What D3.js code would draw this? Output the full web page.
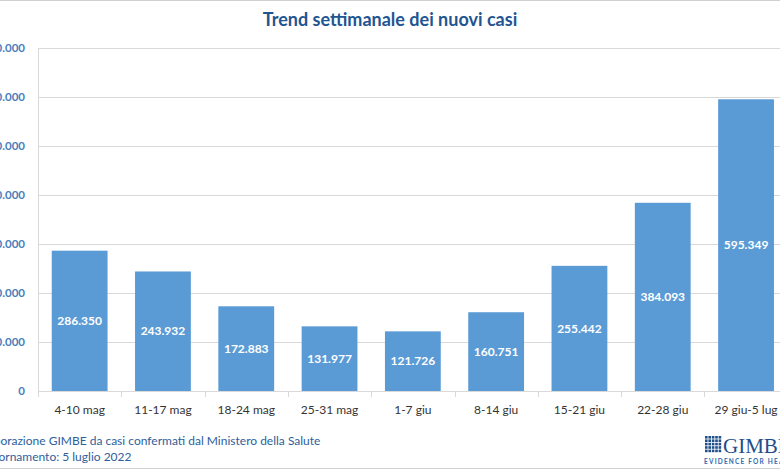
<!DOCTYPE html>
<html><head><meta charset="utf-8">
<script src="https://cdn.jsdelivr.net/npm/d3@7/dist/d3.min.js"></script>
<style>body{margin:0;background:#fff;overflow:hidden}svg{display:block}</style>
</head><body><svg id="c" width="780" height="470"></svg>
<script>
const categories = ["4-10 mag","11-17 mag","18-24 mag","25-31 mag","1-7 giu","8-14 giu","15-21 giu","22-28 giu","29 giu-5 lug"];
const values = [286350,243932,172883,131977,121726,160751,255442,384093,595349];
const yTicks = [0,100000,200000,300000,400000,500000,600000,700000];
const title = "Trend settimanale dei nuovi casi";
const footer = ["Elaborazione GIMBE da casi confermati dal Ministero della Salute","Aggiornamento: 5 luglio 2022"];

const svg = d3.select("#c");
const font = "Lato, 'Open Sans', sans-serif";
const fmt = v => v === 0 ? "0" : d3.format(",")(v).replace(/,/g, ".");

// frame lines
svg.append("line").attr("x1",0).attr("x2",780).attr("y1",0.5).attr("y2",0.5).attr("stroke","#d0d0d0");
svg.append("line").attr("x1",0).attr("x2",780).attr("y1",468.5).attr("y2",468.5).attr("stroke","#d0d0d0");

const x0 = 38, bw = 83.3;
const x = d3.scaleBand().domain(categories).range([x0, x0 + bw*categories.length]).paddingInner(0.33).paddingOuter(0.165);
const y = d3.scaleLinear().domain([0,700000]).range([391,48]);

// gridlines
svg.append("g").selectAll("line").data(yTicks.slice(1)).join("line")
  .attr("x1",x0).attr("x2",780).attr("y1",d=>Math.round(y(d))+0.5).attr("y2",d=>Math.round(y(d))+0.5)
  .attr("stroke","#d9d9d9").attr("stroke-width",1);
// y axis line
svg.append("line").attr("x1",x0+0.5).attr("x2",x0+0.5).attr("y1",48).attr("y2",391).attr("stroke","#d9d9d9");

// y labels
svg.append("g").selectAll("text").data(yTicks).join("text")
  .attr("x",25).attr("y",d=>y(d)).attr("dy","0.35em").attr("text-anchor","end")
  .attr("font-family",font).attr("font-size",11.5).attr("font-weight","bold").attr("fill","#4a7ebb")
  .text(fmt);

// bars
svg.append("g").selectAll("rect").data(values).join("rect")
  .attr("x",(d,i)=>x(categories[i])).attr("width",x.bandwidth())
  .attr("y",d=>y(d)).attr("height",d=>y(0)-y(d)).attr("fill","#5b9bd5");

// x axis line + ticks
svg.append("line").attr("x1",x0).attr("x2",780).attr("y1",391.5).attr("y2",391.5).attr("stroke","#d9d9d9");
svg.append("g").selectAll("line").data(d3.range(categories.length+1)).join("line")
  .attr("x1",i=>Math.round(x0+i*bw)+0.5).attr("x2",i=>Math.round(x0+i*bw)+0.5)
  .attr("y1",391).attr("y2",397).attr("stroke","#d9d9d9");

// value labels
svg.append("g").selectAll("text").data(values).join("text")
  .attr("x",(d,i)=>x(categories[i])+x.bandwidth()/2).attr("y",d=>(y(d)+y(0))/2).attr("dy","0.35em")
  .attr("text-anchor","middle").attr("font-family",font).attr("font-size",12).attr("font-weight","bold")
  .attr("fill","#fff").text(fmt);

// category labels
svg.append("g").selectAll("text").data(categories).join("text")
  .attr("x",d=>x(d)+x.bandwidth()/2).attr("y",410).attr("dy","0.35em").attr("text-anchor","middle")
  .attr("font-family",font).attr("font-size",12).attr("fill","#333").text(d=>d);

// title
svg.append("text").attr("x",390).attr("y",20).attr("dy","0.35em").attr("text-anchor","middle")
  .attr("font-family",font).attr("font-size",18).attr("font-weight","bold").attr("fill","#1f5591").text(title);

// footer
svg.append("g").selectAll("text").data(footer).join("text")
  .attr("x",(d,i)=>i===0?-22:-25).attr("y",(d,i)=>441+i*15.5).attr("dy","0.35em")
  .attr("font-family",font).attr("font-size",12).attr("fill","#2e5e9c").text(d=>d);

// logo
const lg = svg.append("g");
for (let r=0;r<5;r++) for (let c=0;c<5;c++) {
  lg.append("rect").attr("x",705+c*3.4).attr("y",436+r*3.4).attr("width",2.6).attr("height",2.6).attr("fill","#1f4e8c");
}
lg.append("text").attr("x",723).attr("y",453).attr("font-family","'Liberation Serif', serif").attr("font-size",21).attr("fill","#1f4e8c").text("GIMBE");
lg.append("text").attr("x",704).attr("y",464).attr("font-family",font).attr("font-size",6.5).attr("font-weight","bold").attr("letter-spacing",1.2).attr("fill","#2e6db0").text("EVIDENCE FOR HEALTH");
</script></body></html>
